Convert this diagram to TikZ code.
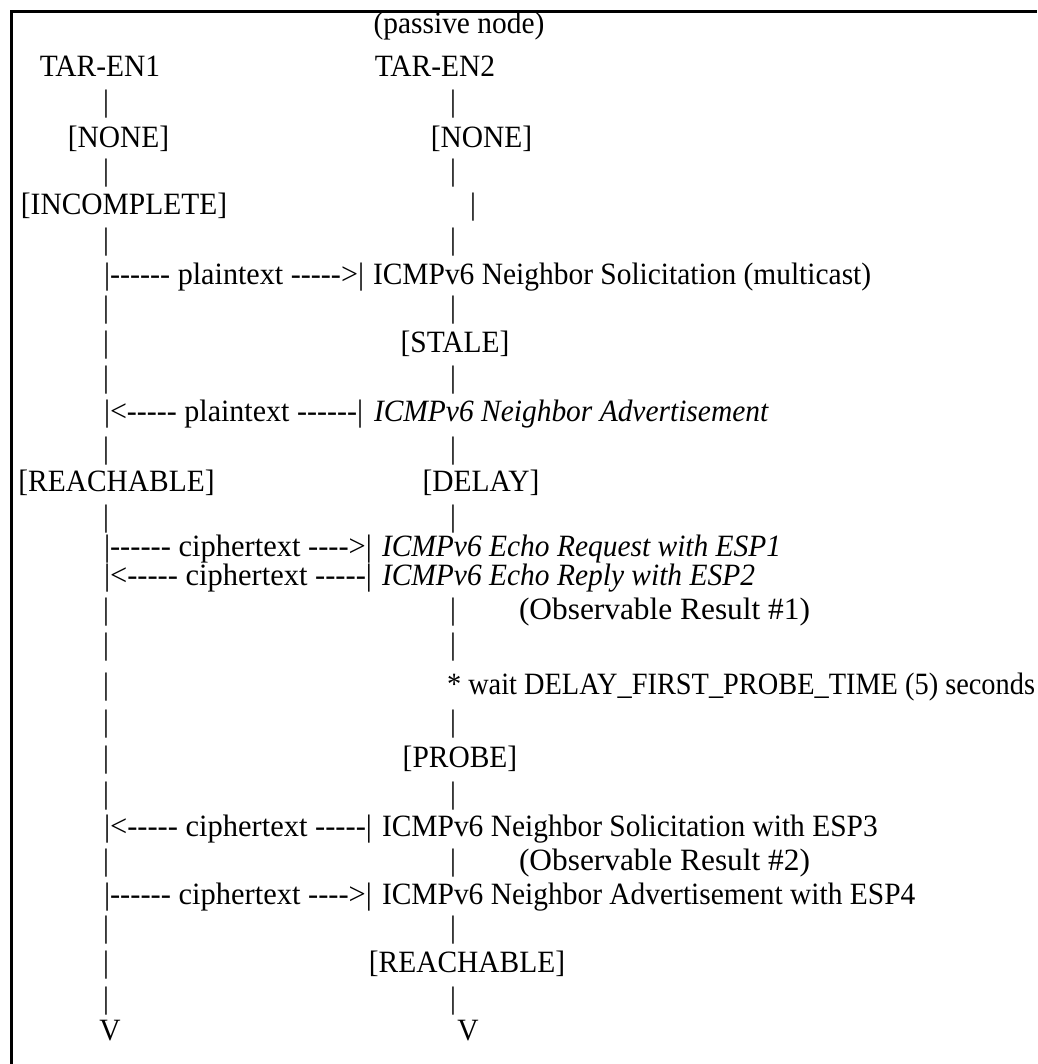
\documentclass[tikz,border=0pt]{standalone}
\usepackage{fontspec}
\usepackage{graphicx}
\newfontfamily\diagfont{Liberation Serif}[FakeStretch=0.95,Ligatures=TeXOff]
\newcommand\fitw[2]{\resizebox{#1pt}{\height}{#2}}
\tikzset{
  lbl/.style={inner sep=0pt, outer sep=0pt, anchor=base west, font=\diagfont\fontsize{31}{36}\selectfont},
  mid/.style={lbl, anchor=base},
  msg/.style={lbl, font=\diagfont\itshape\fontsize{31}{36}\selectfont},
  frameline/.style={line width=2.2pt}
}
% a pair of lifeline bars on one row: TAR-EN1 side and TAR-EN2 side
\newcommand\vbars[2]{%
  \node[mid] (#1a) at (106,#2) {|};
  \node[mid] (#1b) at (453,#2) {|};}
% a lifeline bar on the TAR-EN1 side only
\newcommand\lbar[2]{\node[mid] (#1a) at (106,#2) {|};}
\begin{document}
\begin{tikzpicture}[x=1pt,y=-1pt]
\useasboundingbox (0,0) rectangle (1037,1064);
\fill[white] (0,0) rectangle (1037,1064);
\draw[frameline] (11.5,1064) -- (11.5,11.5) -- (1037,11.5);

\node[mid] (passive) at (459,34) {(passive node)};
\node[mid] (en1) at (100,77) {TAR-EN1};
\node[mid] (en2) at (435,77) {TAR-EN2};
\vbars{r2}{112}
\node[mid] (none1) at (118.5,148) {[NONE]};
\node[mid] (none2) at (481.5,148) {[NONE]};
\vbars{r4}{181}
\node[mid] (incomplete) at (124,215) {[INCOMPLETE]};
\node[mid] (r5b) at (473,215) {|};
\vbars{r6}{250}
\node[lbl] (nsonearrow) at (104,284) {\fitw{260}{|------ plaintext ----->|}};
\node[lbl] (nsone) at (373,284) {ICMPv6 Neighbor Solicitation (multicast)};
\vbars{r8}{317}
\lbar{r9}{352}
\node[mid] (stale) at (455,352) {[STALE]};
\vbars{r10}{387}
\node[lbl] (naonearrow) at (104,421) {\fitw{259}{|<----- plaintext ------|}};
\node[msg] (naone) at (374,421) {ICMPv6 Neighbor Advertisement};
\vbars{r12}{458}
\node[mid] (reachone) at (116.5,491) {[REACHABLE]};
\node[mid] (delay) at (481,491) {[DELAY]};
\vbars{r14}{526}
\node[lbl] (ereqarrow) at (104,556) {\fitw{268}{|------ ciphertext ---->|}};
\node[msg] (ereq) at (382,556) {ICMPv6 Echo Request with ESP1};
\node[lbl] (erplarrow) at (104,585) {\fitw{268}{|<----- ciphertext -----|}};
\node[msg] (erpl) at (382,585) {ICMPv6 Echo Reply with ESP2};
\vbars{r17}{619}
\node[lbl] (obsone) at (519,619) {\fitw{291}{(Observable Result \#1)}};
\vbars{r18}{654}
\lbar{r19}{694}
\node[lbl] (wait) at (447,694) {\fitw{588}{* wait DELAY\_FIRST\_PROBE\_TIME (5) seconds}};
\vbars{r20}{731}
\lbar{r21}{767}
\node[mid] (probe) at (460,767) {[PROBE]};
\vbars{r22}{803}
\node[lbl] (nstwoarrow) at (104,836) {\fitw{268}{|<----- ciphertext -----|}};
\node[lbl] (nstwo) at (382,836) {ICMPv6 Neighbor Solicitation with ESP3};
\vbars{r24}{870}
\node[lbl] (obstwo) at (519,870) {\fitw{291}{(Observable Result \#2)}};
\node[lbl] (natwoarrow) at (104,904) {\fitw{268}{|------ ciphertext ---->|}};
\node[lbl] (natwo) at (382,904) {ICMPv6 Neighbor Advertisement with ESP4};
\vbars{r26}{937}
\lbar{r27}{972}
\node[mid] (reachtwo) at (467,972) {[REACHABLE]};
\vbars{r28}{1008}
\node[mid] (vone) at (110,1040) {V};
\node[mid] (vtwo) at (468,1040) {V};
\end{tikzpicture}
\end{document}
